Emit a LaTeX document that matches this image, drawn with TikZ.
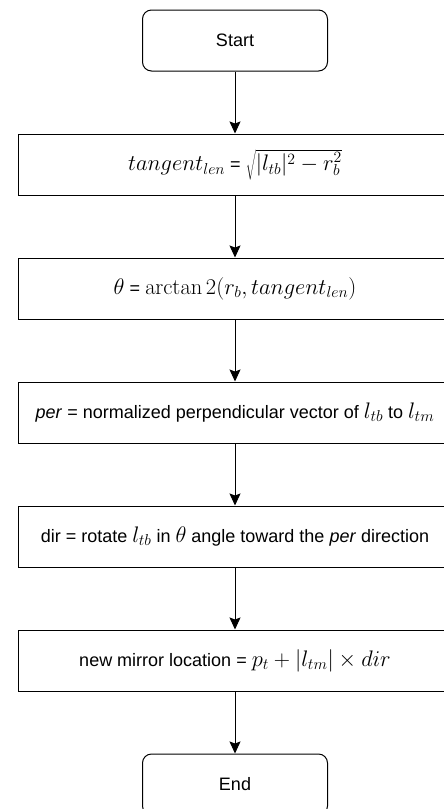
\RequirePackage{fix-cm}
\documentclass[tikz,border=0pt]{standalone}
\usepackage[no-math]{fontspec}
\setmainfont{Liberation Sans}
\usetikzlibrary{arrows.meta,positioning}
\newcommand{\mj}[1]{{\fontsize{22.5}{26}\selectfont$#1$}}

\begin{document}
\begin{tikzpicture}[x=1pt, y=1pt,
      term/.style={draw=black, line width=1pt, rounded corners=9pt,
        minimum width=185pt, minimum height=61pt, inner sep=0pt,
        font=\fontsize{18}{22}\selectfont},
      proc/.style={draw=black, line width=1pt, minimum width=434pt,
        minimum height=61pt, inner sep=0pt, align=center,
        font=\fontsize{18}{22}\selectfont},
      arr/.style={-{Stealth[length=12pt, width=11pt, inset=2pt]}, line width=1pt, black}]
    \useasboundingbox (0,0) rectangle (444,-809);
    \node[term] (start) at (235,-40.5) {Start};
    \node[proc, below=62pt of start] (tang) {\mj{tangent_{len}} = \mj{\sqrt{\rule[-7pt]{0pt}{25pt}|l_{tb}|^2 - r_b^2}}};
    \node[proc, below=62pt of tang] (ang) {\mj{\theta} = \mj{\arctan 2(r_b, tangent_{len})}};
    \node[proc, below=62pt of ang] (perp) {\textit{per} = normalized perpendicular vector of \mj{l_{tb}} to \mj{l_{tm}}};
    \node[proc, below=62pt of perp] (rot) {dir = rotate \mj{l_{tb}} in \mj{\theta} angle toward the \textit{per} direction};
    \node[proc, below=62pt of rot] (loc) {new mirror location = \mj{p_t + |l_{tm}| \times dir}};
    \node[term, below=62pt of loc] (stop) {End};
    \draw[arr] (start) -- (tang);
    \draw[arr] (tang) -- (ang);
    \draw[arr] (ang) -- (perp);
    \draw[arr] (perp) -- (rot);
    \draw[arr] (rot) -- (loc);
    \draw[arr] (loc) -- (stop);
  \end{tikzpicture}
\end{document}
